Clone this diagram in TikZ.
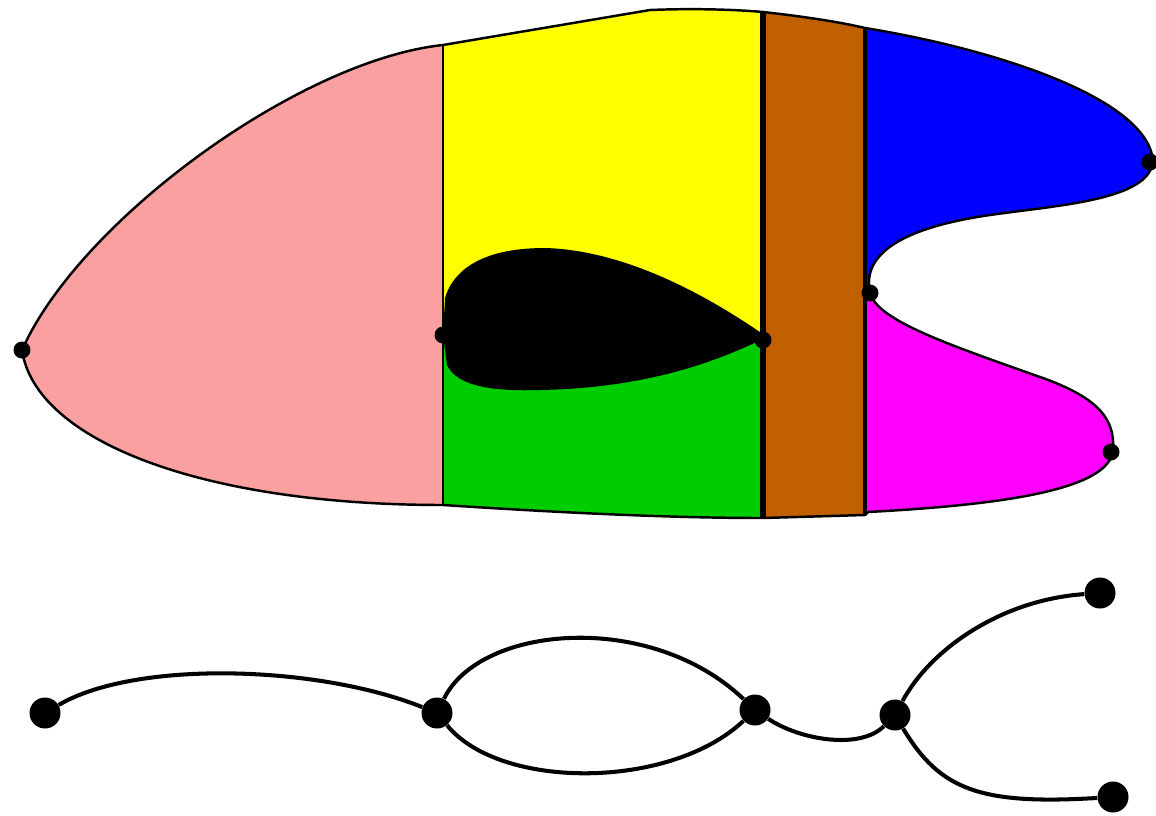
\documentclass[tikz,border=0pt]{standalone}
\usepackage{xcolor}
\usepackage{tikz}
\usetikzlibrary{arrows.meta, positioning}
\definecolor{pinkpart}{RGB}{250,160,160}
\definecolor{yellowpart}{RGB}{255,255,0}
\definecolor{greenpart}{RGB}{0,205,0}
\definecolor{brownpart}{RGB}{192,96,0}
\definecolor{bluepart}{RGB}{0,0,255}
\definecolor{magentapart}{RGB}{255,0,255}
\tikzset{
  border/.style={draw=black, line width=1.4pt, line join=round},
  smalldot/.style={circle, fill=black, inner sep=0pt, minimum size=0.34cm},
  bigdot/.style={circle, fill=black, inner sep=0pt, minimum size=0.62cm},
  graphedge/.style={draw=black, line width=2.3pt}
}

\begin{document}
\begin{tikzpicture}[x=0.02cm, y=-0.02cm]
    \useasboundingbox (0,0) rectangle (1156,815);

    % coloured parts
    \fill[pinkpart] (443,45) .. controls (300,60) and (80,220) .. (22,350)
        .. controls (35,440) and (200,505) .. (443,505) -- cycle;
    \fill[yellowpart] (443,45) -- (650,10) .. controls (700,8) and (740,10) .. (763,12)
        -- (763,340) -- (443,335) -- cycle;
    \fill[greenpart] (443,335) -- (763,340) -- (763,518)
        .. controls (650,518) and (520,510) .. (443,505) -- cycle;
    \fill[brownpart] (763,12) .. controls (800,16) and (840,22) .. (865,28)
        -- (865,515) -- (763,518) -- cycle;
    \fill[bluepart] (865,28) .. controls (1000,50) and (1150,100) .. (1153,162)
        .. controls (1148,200) and (1060,205) .. (990,215)
        .. controls (900,228) and (862,255) .. (870,292) -- (865,292) -- cycle;
    \fill[magentapart] (865,292) -- (870,292) .. controls (875,320) and (950,345) .. (1040,377)
        .. controls (1100,398) and (1115,420) .. (1113,450)
        .. controls (1110,490) and (1000,505) .. (868,512) -- (865,512) -- cycle;
    \fill[black] (443,335) -- (445,298) .. controls (455,265) and (490,248) .. (545,248)
        .. controls (620,250) and (700,290) .. (767,337)
        .. controls (720,360) and (650,388) .. (540,390)
        .. controls (480,392) and (455,382) .. (447,365) -- cycle;

    % outer contour
    \draw[border] (443,45) -- (650,10) .. controls (700,8) and (740,10) .. (763,12)
        .. controls (800,16) and (840,22) .. (865,28)
        .. controls (1000,50) and (1150,100) .. (1153,162)
        .. controls (1148,200) and (1060,205) .. (990,215)
        .. controls (900,228) and (862,255) .. (870,292)
        .. controls (875,320) and (950,345) .. (1040,377)
        .. controls (1100,398) and (1115,420) .. (1113,450)
        .. controls (1110,490) and (1000,505) .. (868,512)
        -- (865,515) -- (763,518)
        .. controls (650,518) and (520,510) .. (443,505)
        .. controls (200,505) and (35,440) .. (22,350)
        .. controls (80,220) and (300,60) .. (443,45);
    \draw[line width=1.7pt] (443,45) -- (443,505);
    \draw[line width=3.4pt] (763,12) -- (763,518);
    \draw[line width=2.3pt] (865,28) -- (865,515);

    % marked points
    \node[smalldot] (pleft) at (22,350) {};
    \node[smalldot] (pblobl) at (443,335) {};
    \node[smalldot] (pblobr) at (763,340) {};
    \node[smalldot] (pneck) at (870,293) {};
    \node[smalldot] (pblue) at (1150,162) {};
    \node[smalldot] (pmag) at (1111,452) {};

    % graph below
    \node[bigdot] (g1) at (45,713) {};
    \node[bigdot] (g2) at (437,713) {};
    \node[bigdot] (g3) at (755,710) {};
    \node[bigdot] (g4) at (895,715) {};
    \node[bigdot] (g5) at (1100,593) {};
    \node[bigdot] (g6) at (1113,797) {};

    \draw[graphedge] (g1) .. controls +(90,-53) and +(-120,-48) .. (g2);
    \draw[graphedge] (g2) .. controls +(43,-88) and +(-105,-100) .. (g3);
    \draw[graphedge] (g2) .. controls +(63,77) and +(-85,80) .. (g3);
    \draw[graphedge] (g3) .. controls +(45,30) and +(-35,35) .. (g4);
    \draw[graphedge] (g4) .. controls +(35,-65) and +(-100,7) .. (g5);
    \draw[graphedge] (g4) .. controls +(45,75) and +(-133,8) .. (g6);
\end{tikzpicture}
\end{document}
